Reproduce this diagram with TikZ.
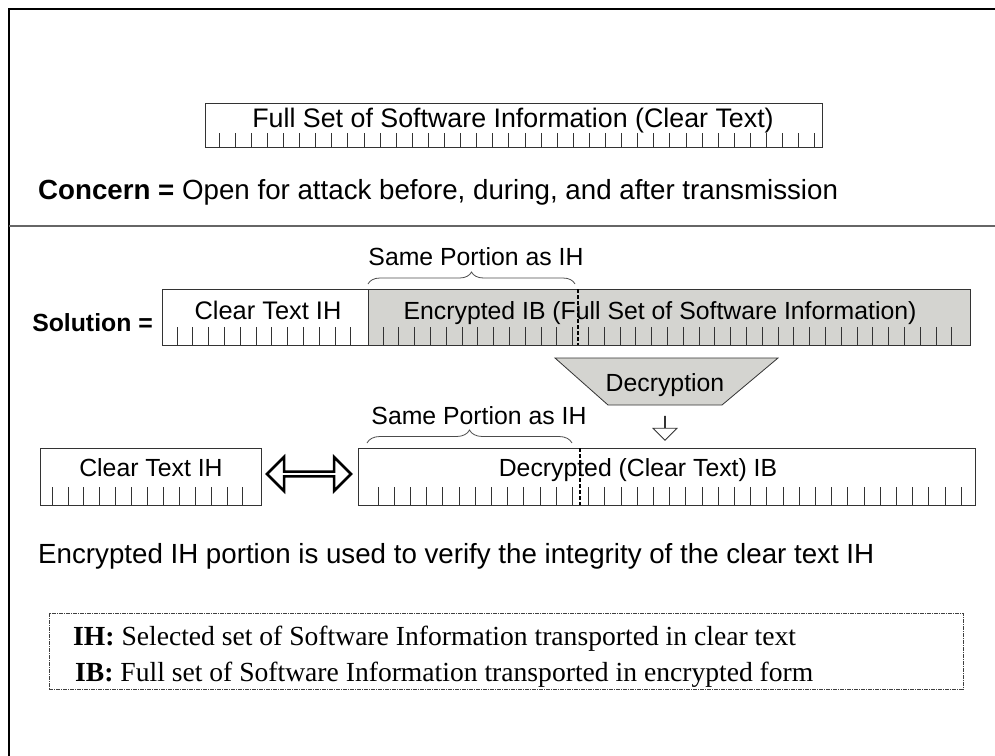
\documentclass[tikz,border=0pt]{standalone}
\usepackage{fontspec}
\setmainfont{Liberation Sans}
\newfontfamily\serifx{Liberation Serif}
\usetikzlibrary{decorations.pathreplacing,shapes.arrows}
\definecolor{barfill}{HTML}{D4D4D0}
\definecolor{barline}{HTML}{333333}
\begin{document}
\begin{tikzpicture}[x=1pt,y=-1pt,
  bar/.style={draw=barline, line width=0.8pt, anchor=north west, inner sep=0pt, outer sep=0pt},
  tick/.style={draw=barline, line width=0.8pt},
  bartext/.style={font=\fontsize{24.8}{28}\selectfont, inner sep=0pt, anchor=base},
  bigtext/.style={font=\fontsize{27.7}{32}\selectfont, inner sep=0pt},
  sertext/.style={font=\serifx\fontsize{27.6}{32}\selectfont, inner sep=0pt},
  divline/.style={black, line width=1.6pt, dash pattern=on 4pt off 2pt},
  bracex/.style={draw=black!70, line width=0.8pt, decorate, decoration={brace, amplitude=12pt}},
]
\useasboundingbox (0,0) rectangle (995,755);
% frame and separator
\draw[line width=2.5pt] (9,770) -- (9,9) -- (1005,9);
\draw[black!60, line width=1.5pt] (9,226) -- (1005,226);

% top bar
\node[bar, minimum width=617pt, minimum height=44pt] (topbar) at (205,103) {};
\node[bartext, font=\fontsize{26.8}{30}\selectfont] (toptext) at (513,127) {Full Set of Software Information (Clear Text)};
\foreach \i in {0,...,37} \draw[tick] ({219+\i*16.1},147) -- ++(0,-14);

\node[bigtext, anchor=base west] (concern) at (38,199) {\textbf{Concern =} Open for attack before, during, and after transmission};

% solution bar
\node[font=\fontsize{24.8}{28}\selectfont\bfseries, inner sep=0pt, anchor=base east] (sol) at (153,331) {Solution =};
\node[bar, minimum width=206pt, minimum height=56pt] (solih) at (162,289) {};
\node[bar, fill=barfill, minimum width=602pt, minimum height=56pt] (solib) at (368,289) {};
\node[bartext, font=\fontsize{25.4}{28}\selectfont] (solihtext) at (268,319) {Clear Text IH};
\node[bartext] (solibtext) at (660,319) {Encrypted IB (Full Set of Software Information)};
\foreach \i in {0,...,11} \draw[tick] ({177+\i*15.8},345) -- ++(0,-18);
\foreach \i in {0,...,36} \draw[tick] ({383+\i*15.8},345) -- ++(0,-18);
\draw[divline] (578,289) -- (578,345);
\draw[bracex] (368,284) -- (575,284);
\node[bartext] (same1) at (476,265) {Same Portion as IH};

% decryption
\draw[draw=barline, line width=0.8pt, fill=barfill] (555,358) -- (778,358) -- (722,405) -- (608,405) -- cycle;
\node[bartext] (dec) at (665,391) {Decryption};
\node[single arrow, draw=barline, fill=white, line width=0.8pt, shape border rotate=270,
  minimum height=24pt, minimum width=24pt, single arrow head extend=8pt, inner sep=0pt] (down) at (665,428) {};

% lower bars
\node[bartext] (same2) at (479,424) {Same Portion as IH};
\draw[bracex, decoration={brace, amplitude=13pt}] (367,443) -- (572,443);
\node[bar, minimum width=221pt, minimum height=57pt] (lowih) at (40,448) {};
\node[bar, minimum width=617pt, minimum height=57pt] (lowib) at (358,448) {};
\node[bartext] (lowihtext) at (151,476) {Clear Text IH};
\node[bartext] (lowibtext) at (638,476) {Decrypted (Clear Text) IB};
\foreach \i in {0,...,12} \draw[tick] ({52+\i*15.9},505) -- ++(0,-18);
\foreach \i in {0,...,36} \draw[tick] ({378+\i*16.2},505) -- ++(0,-18);
\draw[divline] (580,448) -- (580,505);
\node[double arrow, draw=black, line width=2.5pt, fill=white, minimum height=84pt, minimum width=34pt,
  double arrow head extend=8pt, inner sep=0pt] (dbl) at (309,474) {};

\node[bigtext, anchor=base west] (verify) at (38,563) {Encrypted IH portion is used to verify the integrity of the clear text IH};

% legend
\node[bar, draw=black!75, line width=0.8pt, dash pattern=on 4pt off 1pt on 1pt off 1pt, minimum width=914pt, minimum height=76pt] (legend) at (49,613) {};
\node[sertext, anchor=base west] (leg1) at (73,645) {\textbf{IH:} Selected set of Software Information transported in clear text};
\node[sertext, anchor=base west] (leg2) at (75,681) {\textbf{IB:} Full set of Software Information transported in encrypted form};
\end{tikzpicture}
\end{document}
